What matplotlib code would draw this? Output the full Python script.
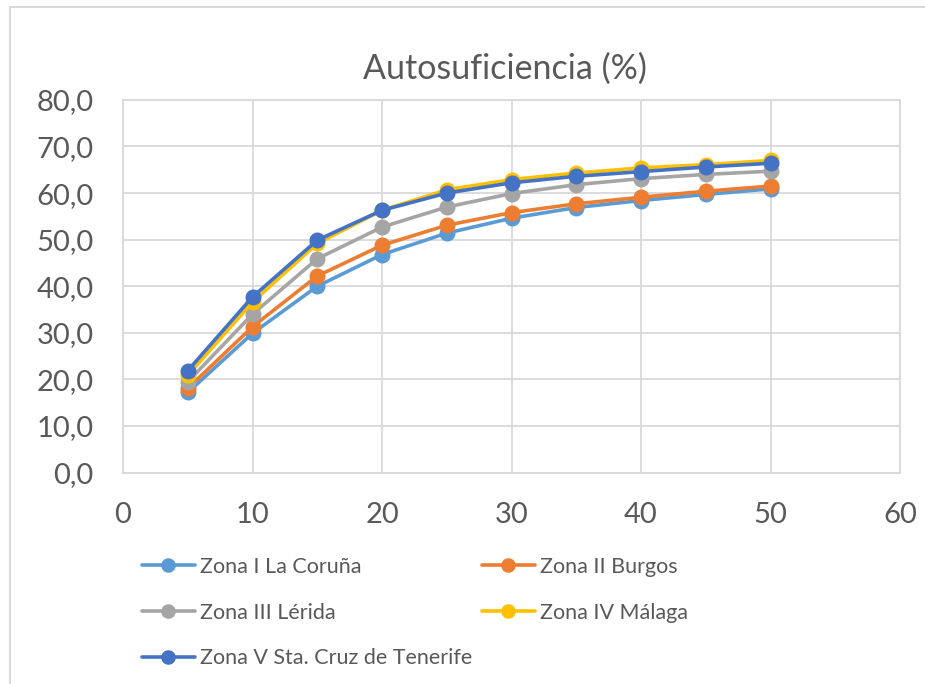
import matplotlib.pyplot as plt
from matplotlib.patches import Rectangle
from matplotlib.ticker import FuncFormatter

x = [5, 10, 15, 20, 25, 30, 35, 40, 45, 50]
coruna = [17.2, 29.9, 40.0, 46.8, 51.4, 54.6, 56.9, 58.4, 59.7, 60.9]
burgos = [18.1, 31.3, 42.2, 48.8, 53.1, 55.8, 57.7, 59.1, 60.4, 61.5]
lerida = [19.5, 34.0, 45.9, 52.7, 57.0, 59.9, 61.8, 63.1, 64.0, 64.7]
malaga = [20.9, 36.6, 49.2, 56.3, 60.7, 62.9, 64.3, 65.4, 66.1, 67.0]
tenerife = [21.9, 37.7, 49.9, 56.3, 60.0, 62.2, 63.6, 64.6, 65.6, 66.4]

names = ["Zona I La Coruña", "Zona II Burgos", "Zona III Lérida",
         "Zona IV Málaga", "Zona V Sta. Cruz de Tenerife"]
series = [coruna, burgos, lerida, malaga, tenerife]
colors = ["#5b9bd5", "#ed7d31", "#a5a5a5", "#ffc000", "#4472c4"]

plt.rcParams['font.family'] = ['Lato', 'DejaVu Sans']
txt = "#595959"
grid = "#d9d9d9"

fig = plt.figure(figsize=(9.25, 6.84), dpi=100)
ax = fig.add_axes([0.133, 0.309, 0.840, 0.545])

lines = []
for vals, name, c in zip(series, names, colors):
    l, = ax.plot(x, vals, color=c, lw=2.6, marker='o', ms=10.5,
                 label=name, solid_capstyle='round')
    lines.append(l)

ax.set_xlim(0, 60)
ax.set_ylim(0, 80)
ax.set_xticks(range(0, 61, 10))
ax.set_yticks(range(0, 81, 10))
ax.yaxis.set_major_formatter(FuncFormatter(lambda v, p: f"{v:.1f}".replace('.', ',')))
ax.grid(True, color=grid, lw=1.3)
ax.set_axisbelow(True)
for s in ax.spines.values():
    s.set_color(grid)
    s.set_linewidth(1.3)
ax.tick_params(length=0, labelsize=21, colors=txt)
ax.tick_params(axis='x', pad=21)
ax.tick_params(axis='y', pad=21)

fig.text(0.546, 0.9, "Autosuficiencia (%)", ha='center', va='center',
         fontsize=24.5, color=txt)

# two legend columns placed separately, filled row by row
legend_kw = dict(loc='upper left', frameon=False, fontsize=15.5, labelcolor=txt,
                 handlelength=2.45, handletextpad=0.25, labelspacing=1.2,
                 borderaxespad=0, borderpad=0, markerscale=0.9)
leg1 = fig.legend([lines[0], lines[2], lines[4]], [names[0], names[2], names[4]],
                  bbox_to_anchor=(0.1535, 0.186), **legend_kw)
leg2 = fig.legend([lines[1], lines[3]], [names[1], names[3]],
                  bbox_to_anchor=(0.521, 0.186), **legend_kw)

fig.patches.append(Rectangle((0.011, -0.05), 1.2, 1.04, transform=fig.transFigure,
                             fill=False, edgecolor=grid, lw=1.5))

fig.savefig("out.png", dpi=100)
